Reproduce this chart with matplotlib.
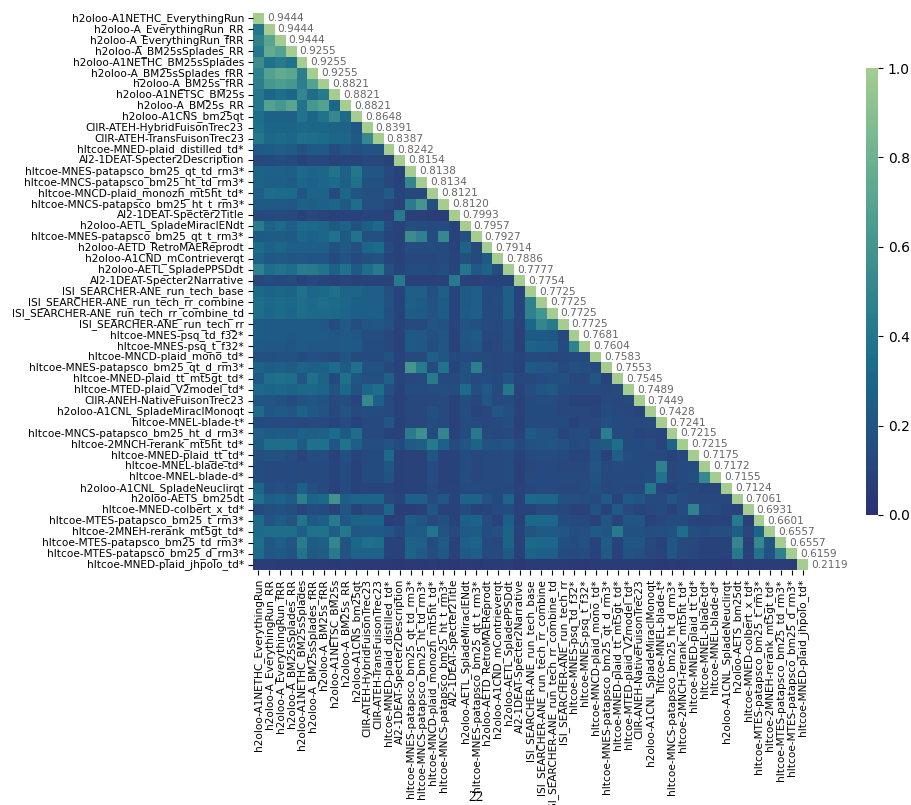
"""
Lower triangle heatmap of run correlations, with each run's score beside the diagonal.
"""

# Importing the required libraries
import numpy as np
import seaborn as sns
import matplotlib
matplotlib.use('Agg')
import matplotlib.pyplot as plt

run_names = [
    'h2oloo-A1NETHC_EverythingRun', 'h2oloo-A_EverythingRun_RR', 'h2oloo-A_EverythingRun_fRR',
    'h2oloo-A_BM25sSplades_RR', 'h2oloo-A1NETHC_BM25sSplades', 'h2oloo-A_BM25sSplades_fRR',
    'h2oloo-A_BM25s_fRR', 'h2oloo-A1NETSC_BM25s', 'h2oloo-A_BM25s_RR', 'h2oloo-A1CNS_bm25qt',
    'CIIR-ATEH-HybridFuisonTrec23', 'CIIR-ATEH-TransFuisonTrec23', 'hltcoe-MNED-plaid_distilled_td*',
    'AI2-1DEAT-Specter2Description', 'hltcoe-MNES-patapsco_bm25_qt_td_rm3*',
    'hltcoe-MNCS-patapsco_bm25_ht_td_rm3*', 'hltcoe-MNCD-plaid_monozh_mt5ht_td*',
    'hltcoe-MNCS-patapsco_bm25_ht_t_rm3*', 'AI2-1DEAT-Specter2Title', 'h2oloo-AETL_SpladeMiraclENdt',
    'hltcoe-MNES-patapsco_bm25_qt_t_rm3*', 'h2oloo-AETD_RetroMAEReprodt', 'h2oloo-A1CND_mContrieverqt',
    'h2oloo-AETL_SpladePPSDdt', 'AI2-1DEAT-Specter2Narrative', 'ISI_SEARCHER-ANE_run_tech_base',
    'ISI_SEARCHER-ANE_run_tech_rr_combine', 'ISI_SEARCHER-ANE_run_tech_rr_combine_td',
    'ISI_SEARCHER-ANE_run_tech_rr', 'hltcoe-MNES-psq_td_f32*', 'hltcoe-MNES-psq_t_f32*',
    'hltcoe-MNCD-plaid_mono_td*', 'hltcoe-MNES-patapsco_bm25_qt_d_rm3*', 'hltcoe-MNED-plaid_tt_mt5gt_td*',
    'hltcoe-MTED-plaid_V2model_td*', 'CIIR-ANEH-NativeFuisonTrec23', 'h2oloo-A1CNL_SpladeMiraclMonoqt',
    'hltcoe-MNEL-blade-t*', 'hltcoe-MNCS-patapsco_bm25_ht_d_rm3*', 'hltcoe-2MNCH-rerank_mt5ht_td*',
    'hltcoe-MNED-plaid_tt_td*', 'hltcoe-MNEL-blade-td*', 'hltcoe-MNEL-blade-d*',
    'h2oloo-A1CNL_SpladeNeuclirqt', 'h2oloo-AETS_bm25dt', 'hltcoe-MNED-colbert_x_td*',
    'hltcoe-MTES-patapsco_bm25_t_rm3*', 'hltcoe-2MNEH-rerank_mt5gt_td*',
    'hltcoe-MTES-patapsco_bm25_td_rm3*', 'hltcoe-MTES-patapsco_bm25_d_rm3*',
    'hltcoe-MNED-plaid_jhpolo_td*',
]

run_scores = [
    '0.9444', '0.9444', '0.9444', '0.9255', '0.9255', '0.9255', '0.8821', '0.8821', '0.8821', '0.8648',
    '0.8391', '0.8387', '0.8242', '0.8154', '0.8138', '0.8134', '0.8121', '0.8120', '0.7993', '0.7957',
    '0.7927', '0.7914', '0.7886', '0.7777', '0.7754', '0.7725', '0.7725', '0.7725', '0.7725', '0.7681',
    '0.7604', '0.7583', '0.7553', '0.7545', '0.7489', '0.7449', '0.7428', '0.7241', '0.7215', '0.7215',
    '0.7175', '0.7172', '0.7155', '0.7124', '0.7061', '0.6931', '0.6601', '0.6557', '0.6557', '0.6159',
    '0.2119',
]

# Values below the diagonal, one list per row
row_00 = []
row_01 = [.40]
row_02 = [.47, .70]
row_03 = [.40, .75, .68]
row_04 = [.55, .37, .42, .37]
row_05 = [.47, .68, .75, .72, .45]
row_06 = [.45, .62, .65, .62, .45, .68]
row_07 = [.40, .30, .34, .30, .50, .35, .42]
row_08 = [.40, .68, .62, .70, .38, .62, .68, .30]
row_09 = [.34, .27, .27, .27, .38, .30, .38, .52, .33]
row_10 = [.36, .29, .29, .29, .32, .30, .30, .28, .28, .20]
row_11 = [.40, .31, .33, .30, .36, .35, .33, .30, .30, .22, .52]
row_12 = [.22, .24, .25, .24, .18, .23, .22, .15, .20, .17, .19, .19]
row_13 = [.12, .14, .15, .14, .10, .12, .12, .09, .11, .11, .12, .12, .09]
row_14 = [.28, .27, .27, .25, .32, .29, .30, .38, .27, .40, .20, .20, .13, .10]
row_15 = [.28, .26, .25, .24, .30, .27, .30, .33, .26, .36, .18, .18, .12, .10, .50]
row_16 = [.25, .34, .33, .33, .20, .28, .28, .14, .30, .19, .17, .17, .24, .11, .12, .12]
row_17 = [.22, .23, .23, .21, .27, .25, .27, .30, .23, .34, .17, .17, .12, .09, .44, .60, .16]
row_18 = [.12, .14, .13, .13, .09, .12, .11, .08, .10, .10, .11, .11, .09, .42, .08, .08, .07, .07]
row_19 = [.43, .28, .33, .26, .33, .32, .30, .23, .28, .18, .26, .32, .14, .10, .16, .15, .14, .15, .10]
row_20 = [.22, .24, .24, .22, .30, .27, .30, .37, .23, .38, .17, .17, .11, .09, .55, .47, .15, .52, .09, .17]
row_21 = [.33, .27, .30, .26, .26, .25, .25, .18, .23, .17, .30, .33, .13, .10, .15, .15, .15, .14, .10, .28, .13]
row_22 = [.28, .21, .23, .20, .21, .20, .20, .15, .19, .14, .17, .18, .11, .09, .12, .12, .12, .13, .11, .18, .13, .23]
row_23 = [.47, .35, .38, .34, .44, .42, .38, .27, .37, .22, .35, .42, .17, .11, .15, .15, .14, .16, .11, .40, .22, .28, .16]
row_24 = [.12, .14, .13, .13, .10, .12, .11, .08, .11, .09, .10, .10, .09, .42, .08, .08, .08, .08, .42, .10, .08, .10, .10, .10]
row_25 = [.31, .28, .30, .28, .36, .30, .32, .36, .29, .29, .25, .25, .17, .11, .26, .25, .17, .26, .11, .23, .26, .14, .14, .25, .11]
row_26 = [.35, .31, .33, .31, .35, .32, .34, .33, .30, .26, .26, .26, .18, .10, .25, .24, .19, .24, .11, .23, .25, .14, .15, .25, .11, .47]
row_27 = [.34, .30, .33, .30, .34, .32, .33, .32, .29, .26, .26, .26, .17, .10, .24, .23, .19, .24, .11, .24, .25, .14, .14, .25, .11, .47, .60]
row_28 = [.24, .22, .23, .22, .22, .22, .21, .15, .23, .16, .20, .21, .18, .09, .13, .13, .19, .18, .11, .19, .17, .13, .14, .18, .09, .30, .50, .42]
row_29 = [.24, .22, .22, .21, .22, .22, .22, .21, .23, .21, .16, .16, .12, .09, .23, .21, .17, .20, .09, .20, .23, .12, .12, .18, .08, .23, .22, .21, .12]
row_30 = [.22, .21, .21, .20, .22, .21, .21, .21, .22, .22, .15, .15, .12, .09, .23, .21, .16, .20, .09, .19, .21, .11, .12, .17, .08, .28, .26, .26, .14, .48]
row_31 = [.17, .17, .18, .18, .15, .17, .16, .13, .20, .13, .14, .14, .18, .10, .13, .13, .25, .20, .13, .15, .14, .13, .12, .13, .11, .13, .13, .12, .12, .14, .14]
row_32 = [.28, .24, .26, .24, .28, .25, .27, .33, .24, .36, .18, .18, .12, .10, .60, .42, .14, .38, .11, .18, .45, .14, .12, .14, .10, .24, .20, .20, .13, .17, .16, .13]
row_33 = [.22, .35, .36, .34, .20, .36, .28, .14, .36, .20, .17, .17, .27, .11, .12, .13, .42, .14, .13, .18, .14, .15, .14, .19, .12, .12, .15, .16, .17, .12, .12, .20, .11]
row_34 = [.32, .29, .31, .28, .31, .31, .29, .19, .31, .18, .30, .34, .17, .10, .15, .15, .16, .16, .15, .33, .16, .22, .14, .40, .11, .16, .20, .23, .15, .14, .14, .13, .12, .13]
row_35 = [.20, .20, .18, .15, .19, .20, .18, .13, .16, .11, .52, .27, .13, .09, .12, .12, .12, .13, .09, .16, .12, .20, .13, .15, .09, .13, .15, .15, .12, .09, .09, .10, .13, .12, .13]
row_36 = [.33, .20, .22, .20, .28, .23, .19, .12, .19, .13, .15, .15, .14, .09, .12, .12, .17, .13, .09, .16, .11, .12, .20, .17, .09, .14, .14, .14, .12, .12, .12, .11, .15, .13, .12, .11]
row_37 = [.14, .14, .14, .14, .12, .14, .13, .11, .15, .10, .13, .13, .20, .08, .12, .12, .15, .13, .08, .15, .13, .12, .14, .16, .08, .14, .14, .13, .14, .10, .12, .12, .17, .14, .13, .13, .13]
row_38 = [.25, .23, .24, .22, .27, .25, .27, .33, .23, .35, .14, .14, .10, .09, .44, .57, .14, .50, .10, .15, .42, .13, .12, .14, .09, .22, .19, .19, .11, .15, .15, .11, .45, .13, .13, .11, .12, .11]
row_39 = [.24, .35, .35, .34, .24, .36, .36, .20, .38, .26, .16, .16, .19, .14, .24, .26, .42, .27, .15, .20, .28, .18, .18, .20, .14, .18, .19, .20, .18, .14, .15, .20, .23, .35, .13, .14, .15, .11, .28]
row_40 = [.16, .17, .17, .15, .11, .16, .15, .10, .17, .11, .14, .14, .32, .08, .09, .09, .20, .10, .10, .15, .12, .14, .14, .15, .10, .13, .15, .15, .14, .11, .11, .18, .10, .25, .15, .14, .13, .13, .10, .12]
row_41 = [.15, .14, .14, .14, .13, .14, .14, .11, .15, .10, .14, .14, .20, .08, .09, .09, .15, .09, .10, .15, .12, .13, .13, .15, .08, .12, .14, .14, .12, .12, .12, .20, .13, .15, .13, .13, .13, .47, .12, .14, .15]
row_42 = [.15, .14, .14, .14, .13, .14, .14, .11, .15, .10, .14, .14, .18, .08, .09, .09, .15, .09, .10, .16, .12, .13, .14, .15, .08, .13, .14, .14, .13, .13, .13, .18, .13, .14, .14, .14, .15, .38, .12, .14, .16, .52]
row_43 = [.30, .16, .17, .15, .27, .17, .14, .09, .15, .10, .11, .11, .11, .08, .10, .10, .13, .10, .11, .14, .14, .14, .13, .14, .10, .12, .13, .13, .12, .12, .13, .17, .12, .13, .12, .12, .40, .11, .10, .14, .12, .11, .11]
row_44 = [.36, .25, .28, .24, .46, .28, .31, .58, .25, .29, .29, .29, .12, .11, .26, .25, .15, .21, .11, .28, .28, .18, .14, .29, .10, .32, .30, .30, .17, .17, .16, .13, .22, .11, .22, .20, .13, .13, .20, .15, .12, .12, .12, .12]
row_45 = [.14, .17, .18, .16, .11, .15, .14, .09, .20, .10, .13, .14, .30, .07, .07, .08, .20, .09, .09, .15, .10, .11, .14, .15, .09, .10, .13, .14, .12, .09, .09, .18, .10, .22, .13, .11, .12, .14, .09, .15, .48, .15, .14, .11, .09]
row_46 = [.33, .19, .24, .19, .39, .23, .26, .42, .21, .28, .28, .28, .07, .08, .24, .20, .13, .17, .09, .26, .28, .15, .10, .26, .08, .31, .30, .30, .15, .14, .14, .09, .20, .09, .20, .20, .10, .12, .15, .14, .10, .10, .10, .10, .42, .08]
row_47 = [.33, .35, .35, .35, .26, .37, .37, .26, .41, .21, .22, .22, .20, .14, .22, .24, .39, .19, .13, .22, .24, .15, .17, .28, .10, .19, .23, .23, .20, .16, .17, .22, .20, .42, .17, .17, .16, .17, .18, .34, .16, .15, .16, .16, .25, .12, .28]
row_48 = [.35, .21, .25, .20, .44, .24, .26, .50, .19, .30, .36, .34, .10, .09, .28, .25, .15, .23, .09, .25, .28, .14, .12, .28, .08, .32, .30, .30, .16, .15, .18, .10, .24, .10, .20, .20, .12, .10, .20, .13, .12, .10, .10, .10, .50, .08, .52, .20]
row_49 = [.33, .21, .23, .19, .39, .23, .24, .42, .19, .28, .28, .28, .10, .09, .28, .23, .16, .21, .09, .23, .25, .14, .13, .23, .08, .28, .26, .26, .15, .14, .15, .10, .23, .10, .18, .17, .12, .11, .20, .13, .12, .10, .10, .10, .42, .08, .38, .18, .47]
row_50 = [.07, .07, .06, .06, .06, .06, .06, .05, .06, .05, .05, .05, .05, .04, .05, .05, .06, .05, .04, .06, .05, .06, .06, .07, .04, .06, .06, .06, .06, .05, .05, .06, .06, .06, .06, .06, .06, .05, .06, .05, .06, .06, .06, .05, .07, .06, .07, .07, .07, .07]

lower_rows = [
    row_00, row_01, row_02, row_03, row_04, row_05, row_06, row_07, row_08, row_09,
    row_10, row_11, row_12, row_13, row_14, row_15, row_16, row_17, row_18, row_19,
    row_20, row_21, row_22, row_23, row_24, row_25, row_26, row_27, row_28, row_29,
    row_30, row_31, row_32, row_33, row_34, row_35, row_36, row_37, row_38, row_39,
    row_40, row_41, row_42, row_43, row_44, row_45, row_46, row_47, row_48, row_49,
    row_50,
]


def build_matrix():
    n = len(run_names)
    matrix = np.full((n, n), np.nan)
    for i, row in enumerate(lower_rows):
        matrix[i, :len(row)] = row
        matrix[i, i] = 1.0
    return matrix


def plot_heatmap(matrix):
    w, h = 912, 805
    fig = plt.figure(figsize=(w / 100, h / 100), dpi=100)
    ax = fig.add_axes([253 / w, 1 - 570 / h, 555 / w, 557 / h])
    cax = fig.add_axes([866 / w, 1 - 515 / h, 12 / w, 447 / h])
    sns.heatmap(matrix, cmap='crest_r', vmin=0, vmax=1, ax=ax, cbar_ax=cax,
                xticklabels=run_names, yticklabels=run_names)
    ax.tick_params(axis='both', labelsize=7.6, length=3.5, width=0.8, pad=3)
    ax.set_xticklabels(run_names, rotation=90, fontsize=7.6)
    ax.set_yticklabels(run_names, rotation=0, fontsize=7.6)
    cax.tick_params(labelsize=10, length=3.5, width=0.8)

    # the score of each run sits just right of its diagonal cell
    for i, score in enumerate(run_scores):
        ax.text(i + 1.27, i + 0.5, score, color='#666666', fontsize=7.6,
                ha='left', va='center', clip_on=False)

    fig.text(476 / w, 1 - 797 / h, '22', family='Liberation Serif', fontsize=11,
             ha='center', va='center')
    fig.savefig('out.png', dpi=100)


def main():
    plot_heatmap(build_matrix())


if __name__ == '__main__':
    main()
